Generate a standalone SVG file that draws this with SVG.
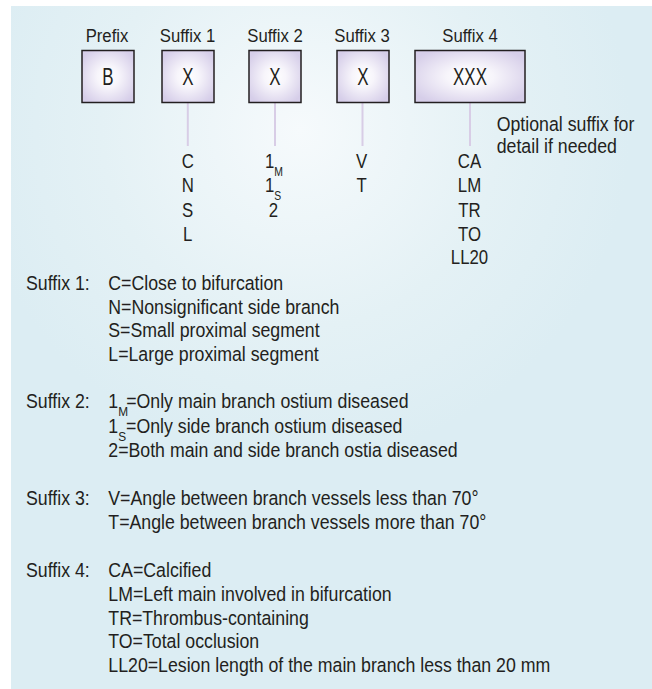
<svg xmlns="http://www.w3.org/2000/svg" width="652" height="689" viewBox="0 0 652 689">
<defs>
<radialGradient id="bg" cx="300" cy="130" r="330" gradientUnits="userSpaceOnUse">
<stop offset="0" stop-color="#f6fafc"/>
<stop offset="0.6" stop-color="#e4f1f5"/>
<stop offset="1" stop-color="#dcedf3"/>
</radialGradient>
<radialGradient id="boxfill" cx="0.5" cy="0.5" r="0.6">
<stop offset="0" stop-color="#ffffff"/>
<stop offset="0.35" stop-color="#f7f5fb"/>
<stop offset="1" stop-color="#d6cee9"/>
</radialGradient>
<style>
text{font-family:"Liberation Sans",Arial,sans-serif;fill:#231f20}
.lab{font-size:19px;text-anchor:middle}
.big{font-size:23.5px;text-anchor:middle}
.col{font-size:21px;text-anchor:middle}
.cols{font-size:21px}
.leg{font-size:19.5px}
.sub{font-size:13px}
.box{fill:url(#boxfill);stroke:#231f20;stroke-width:1.5}
.conn{stroke:#d8cde6;stroke-width:2;fill:none}
</style>
</defs>
<rect x="11" y="6" width="641" height="683" fill="url(#bg)"/>
<g id="connectors">
<line class="conn" x1="187.8" y1="102.5" x2="187.8" y2="146"/>
<line class="conn" x1="275" y1="102.5" x2="275" y2="146"/>
<line class="conn" x1="362.5" y1="102.5" x2="362.5" y2="146"/>
<line class="conn" x1="470" y1="102.5" x2="470" y2="146"/>
</g>
<g id="prefix">
<text class="lab" transform="translate(107 41.7) scale(0.88 1)">Prefix</text>
<rect class="box" x="82" y="50.5" width="52" height="52"/>
<text class="big" transform="translate(108 85) scale(0.72 1)">B</text>
</g>
<g id="suffix1">
<text class="lab" transform="translate(187.5 41.7) scale(0.88 1)">Suffix 1</text>
<rect class="box" x="162" y="50.5" width="52" height="52"/>
<text class="big" transform="translate(188 85) scale(0.72 1)">X</text>
<text class="col" transform="translate(187.7 168.3) scale(0.8 1)">C</text>
<text class="col" transform="translate(187.7 192.4) scale(0.8 1)">N</text>
<text class="col" transform="translate(187.7 216.5) scale(0.8 1)">S</text>
<text class="col" transform="translate(187.7 240.6) scale(0.8 1)">L</text>
</g>
<g id="suffix2">
<text class="lab" transform="translate(275 41.7) scale(0.88 1)">Suffix 2</text>
<rect class="box" x="249" y="50.5" width="52" height="52"/>
<text class="big" transform="translate(275 85) scale(0.72 1)">X</text>
<text class="cols" transform="translate(265 168.3) scale(0.8 1)">1<tspan class="sub" dy="8">M</tspan></text>
<text class="cols" transform="translate(265 192.4) scale(0.8 1)">1<tspan class="sub" dy="8">S</tspan></text>
<text class="col" transform="translate(273.5 216.5) scale(0.8 1)">2</text>
</g>
<g id="suffix3">
<text class="lab" transform="translate(362 41.7) scale(0.88 1)">Suffix 3</text>
<rect class="box" x="337" y="50.5" width="52" height="52"/>
<text class="big" transform="translate(363 85) scale(0.72 1)">X</text>
<text class="col" transform="translate(361.7 168.3) scale(0.8 1)">V</text>
<text class="col" transform="translate(361.7 192.4) scale(0.8 1)">T</text>
</g>
<g id="suffix4">
<text class="lab" transform="translate(470 41.7) scale(0.88 1)">Suffix 4</text>
<rect class="box" x="415" y="50.5" width="110" height="52"/>
<text class="big" transform="translate(470 85) scale(0.72 1)">XXX</text>
<text class="col" transform="translate(469.5 168.3) scale(0.8 1)">CA</text>
<text class="col" transform="translate(469.5 192.4) scale(0.8 1)">LM</text>
<text class="col" transform="translate(469.5 216.5) scale(0.8 1)">TR</text>
<text class="col" transform="translate(469.5 240.6) scale(0.8 1)">TO</text>
<text class="col" transform="translate(469.5 264.2) scale(0.8 1)">LL20</text>
</g>
<g id="note">
<text class="leg" transform="translate(496.7 130.5) scale(0.91 1)">Optional suffix for</text>
<text class="leg" transform="translate(496.7 153) scale(0.91 1)">detail if needed</text>
</g>
<g id="legend">
<text class="leg" transform="translate(26 290) scale(0.91 1)">Suffix 1:</text>
<text class="leg" transform="translate(108.3 290) scale(0.91 1)">C=Close to bifurcation</text>
<text class="leg" transform="translate(108.3 313.6) scale(0.91 1)">N=Nonsignificant side branch</text>
<text class="leg" transform="translate(108.3 337.2) scale(0.91 1)">S=Small proximal segment</text>
<text class="leg" transform="translate(108.3 360.8) scale(0.91 1)">L=Large proximal segment</text>
<text class="leg" transform="translate(26 408.3) scale(0.91 1)">Suffix 2:</text>
<text class="leg" transform="translate(108.3 408.3) scale(0.91 1)">1<tspan class="sub" dy="8">M</tspan><tspan dx="-2" dy="-8">=Only main branch ostium diseased</tspan></text>
<text class="leg" transform="translate(108.3 432.6) scale(0.91 1)">1<tspan class="sub" dy="8">S</tspan><tspan dy="-8">=Only side branch ostium diseased</tspan></text>
<text class="leg" transform="translate(108.3 456.9) scale(0.91 1)">2=Both main and side branch ostia diseased</text>
<text class="leg" transform="translate(26 505) scale(0.91 1)">Suffix 3:</text>
<text class="leg" transform="translate(108.3 505) scale(0.91 1)">V=Angle between branch vessels less than 70°</text>
<text class="leg" transform="translate(108.3 528.6) scale(0.91 1)">T=Angle between branch vessels more than 70°</text>
<text class="leg" transform="translate(26 577.4) scale(0.91 1)">Suffix 4:</text>
<text class="leg" transform="translate(108.3 577.4) scale(0.91 1)">CA=Calcified</text>
<text class="leg" transform="translate(108.3 601) scale(0.91 1)">LM=Left main involved in bifurcation</text>
<text class="leg" transform="translate(108.3 624.6) scale(0.91 1)">TR=Thrombus-containing</text>
<text class="leg" transform="translate(108.3 648.2) scale(0.91 1)">TO=Total occlusion</text>
<text class="leg" transform="translate(108.3 671.8) scale(0.91 1)">LL20=Lesion length of the main branch less than 20 mm</text>
</g>
</svg>
